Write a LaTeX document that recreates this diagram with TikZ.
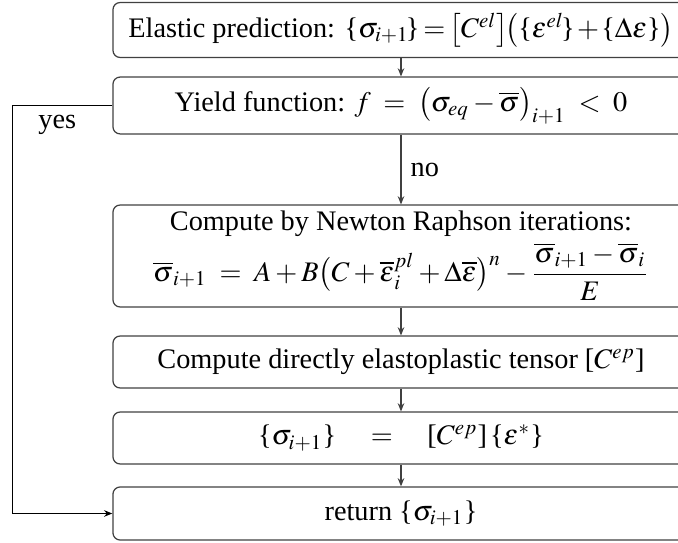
\documentclass[tikz,border=0pt]{standalone}
\usepackage{amsmath}
\usepackage{mathptmx}
\usepackage{fontspec}
\setmainfont{Liberation Serif}
\usepackage{tikz}
\usetikzlibrary{arrows.meta,positioning,calc}
% braces and brackets taken from the text font
\newcommand{\lbr}{\mathopen{\textnormal{\{}}}
\newcommand{\rbr}{\mathclose{\textnormal{\}}}}
\newcommand{\lsq}{\mathopen{\textnormal{[}}}
\newcommand{\rsq}{\mathclose{\textnormal{]}}}

\begin{document}
\begin{tikzpicture}[x=0.364pt,y=-0.364pt,
  stepbox/.style={rectangle,rounded corners=2.6pt,draw=black!75,line width=0.45pt,
    minimum width=209.7pt,inner sep=1pt,align=center,font=\fontsize{10.3}{12.3}\selectfont},
  arr/.style={-{Stealth[length=3pt,width=2.4pt]},black!75,line width=0.4pt}]
  \useasboundingbox (0,0) rectangle (678,543);
  % algorithm steps, top to bottom
  \node[stepbox,minimum height=20pt] (pred) at (401,30)
    {Elastic prediction: $\medmuskip=1.5mu\thickmuskip=2.5mu
     \lbr\sigma_{i+1}\!\rbr = \bigl[C^{el}\bigr]\!\bigl(\lbr\varepsilon^{el}\!\rbr + \lbr\Delta\varepsilon\rbr\bigr)$};
  \node[stepbox,minimum height=20.7pt] (yield) at (401,105.5)
    {Yield function: $f \;=\; \bigl(\sigma_{eq} - \overline{\sigma}\bigr)_{i+1} \;<\; 0$};
  \node[stepbox,minimum height=37.1pt] (newton) at (401,256)
    {Compute by Newton Raphson iterations:\\[1pt]
     $\overline{\sigma}_{i+1} \;=\; A + B\bigl(C + \overline{\varepsilon}^{pl}_i + \Delta\overline{\varepsilon}\bigr)^n - \dfrac{\overline{\sigma}_{i+1} - \overline{\sigma}_i}{E}$};
  \node[stepbox,minimum height=18.9pt] (tensor) at (401,362)
    {Compute directly elastoplastic tensor $\lsq C^{ep}\rsq$};
  \node[stepbox,minimum height=18.9pt] (update) at (401,438)
    {$\lbr\sigma_{i+1}\rbr \quad = \quad \lsq C^{ep}\rsq\,\lbr\varepsilon^{*}\rbr$};
  \node[stepbox,minimum height=19.3pt] (ret) at (401,513.5)
    {return $\lbr\sigma_{i+1}\rbr$};
  % connectors
  \draw[arr] (pred) -- (yield);
  \draw[arr] (yield) -- node[right,font=\fontsize{10.3}{12.3}\selectfont,black] (no) {no} (newton);
  \draw[arr] (newton) -- (tensor);
  \draw[arr] (tensor) -- (update);
  \draw[arr] (update) -- (ret);
  % elastic branch
  \draw[arr,black] (yield.west) -- ++(-100,0) node[pos=0.55,below,font=\fontsize{10.3}{12.3}\selectfont] (yes) {yes} |- (ret.west);
\end{tikzpicture}
\end{document}
